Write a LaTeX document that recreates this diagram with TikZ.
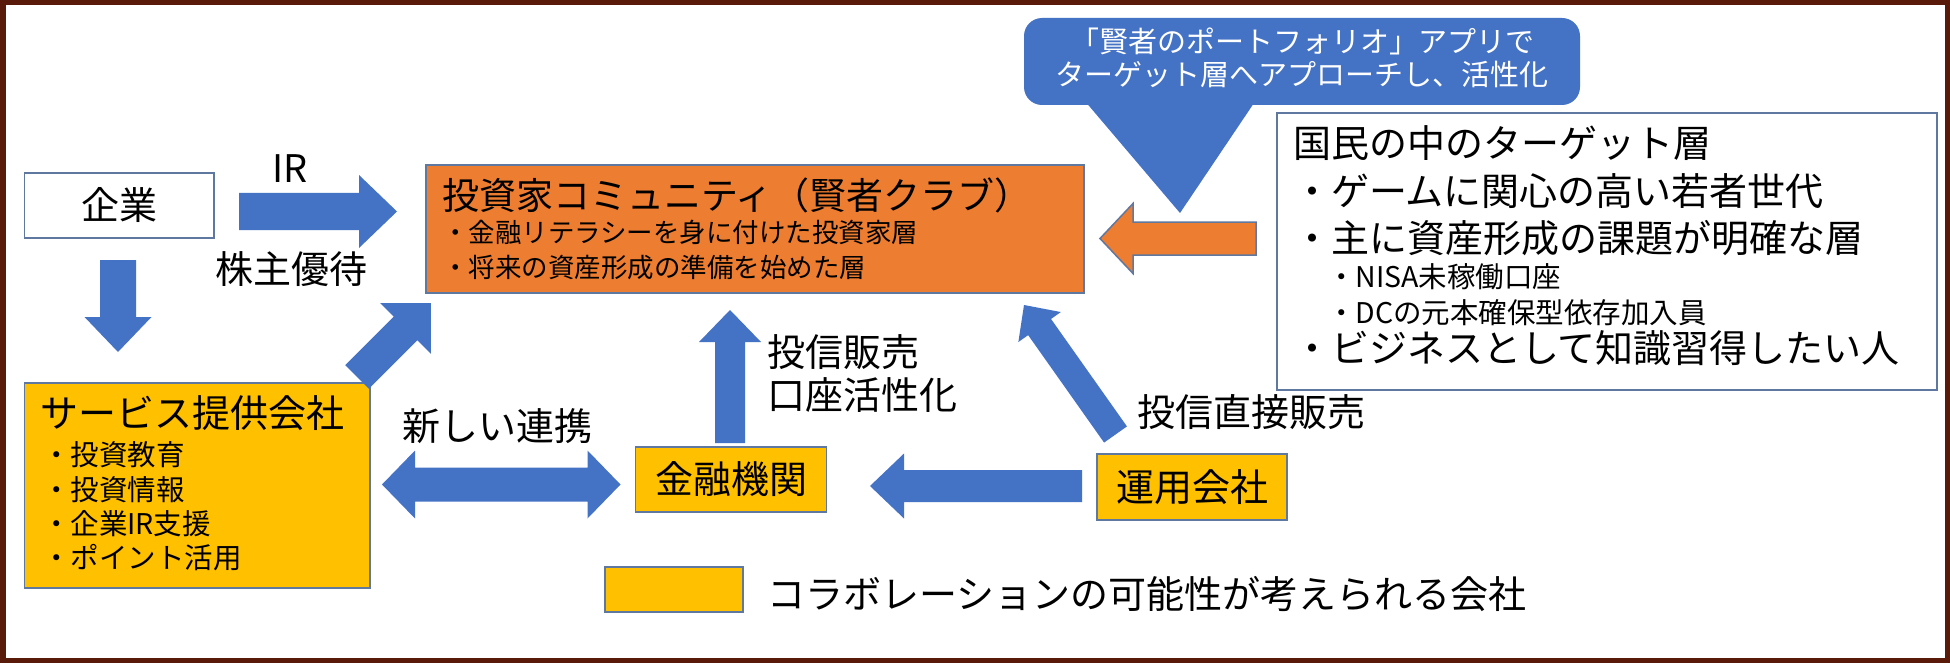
\documentclass[tikz,border=0pt]{standalone}
\usepackage{fontspec}
\setmainfont{Noto Sans CJK JP}
\usetikzlibrary{calc}
\definecolor{bordc}{RGB}{95,120,160}
\definecolor{framec}{RGB}{90,26,10}
\definecolor{arrb}{RGB}{68,114,196}
\definecolor{yelc}{RGB}{255,192,0}
\definecolor{orac}{RGB}{237,125,49}
\newcommand{\fsz}[1]{\fontsize{#1}{#1}\selectfont}
\newcommand{\blockarrow}[6][barrow]{%
  \pgfpointdiff{\pgfpointanchor{#2}{center}}{\pgfpointanchor{#3}{center}}%
  \pgfgetlastxy{\bax}{\bay}%
  \pgfmathsetmacro{\baang}{atan2(\bay,\bax)}%
  \pgfmathsetmacro{\balen}{veclen(\bax,\bay)}%
  \pgfmathsetmacro{\baneck}{\balen-#6}%
  \begin{scope}[shift={(#2)},rotate=\baang]
    \path[#1] (0pt,{-#4*1pt}) -- ({\baneck*1pt},{-#4*1pt}) -- ({\baneck*1pt},{-#5*1pt}) -- ({\balen*1pt},0pt)
      -- ({\baneck*1pt},{#5*1pt}) -- ({\baneck*1pt},{#4*1pt}) -- (0pt,{#4*1pt}) -- cycle;
  \end{scope}}
\newcommand{\dblockarrow}[6][barrow]{%
  \pgfpointdiff{\pgfpointanchor{#2}{center}}{\pgfpointanchor{#3}{center}}%
  \pgfgetlastxy{\bax}{\bay}%
  \pgfmathsetmacro{\baang}{atan2(\bay,\bax)}%
  \pgfmathsetmacro{\balen}{veclen(\bax,\bay)}%
  \pgfmathsetmacro{\baneck}{\balen-#6}%
  \begin{scope}[shift={(#2)},rotate=\baang]
    \path[#1] (0pt,0pt) -- ({#6*1pt},{-#5*1pt}) -- ({#6*1pt},{-#4*1pt}) -- ({\baneck*1pt},{-#4*1pt})
      -- ({\baneck*1pt},{-#5*1pt}) -- ({\balen*1pt},0pt) -- ({\baneck*1pt},{#5*1pt}) -- ({\baneck*1pt},{#4*1pt})
      -- ({#6*1pt},{#4*1pt}) -- ({#6*1pt},{#5*1pt}) -- cycle;
  \end{scope}}
\begin{document}
\begin{tikzpicture}[x=1pt,y=-1pt,
  box/.style={draw=bordc, line width=1.5pt, inner sep=0pt, outer sep=0pt, anchor=north west},
  wbox/.style={box, fill=white},
  ybox/.style={box, fill=yelc},
  obox/.style={box, fill=orac},
  t38/.style={inner sep=0pt, outer sep=0pt, font=\fsz{38}, text height=33.44pt, text depth=4.56pt},
  t37/.style={inner sep=0pt, outer sep=0pt, font=\fsz{37}, text height=32.56pt, text depth=4.44pt},
  t29/.style={inner sep=0pt, outer sep=0pt, font=\fsz{29}, text height=25.52pt, text depth=3.48pt},
  t28/.style={inner sep=0pt, outer sep=0pt, font=\fsz{28.5}, text height=25.08pt, text depth=3.42pt},
  t26/.style={inner sep=0pt, outer sep=0pt, font=\fsz{26.5}, text height=23.32pt, text depth=3.18pt},
  barrow/.style={fill=arrb},
  oarrow/.style={fill=orac, draw=bordc, line width=1.5pt}]
\useasboundingbox (0,0) rectangle (1950,663);
\fill[white] (0,0) rectangle (1950,663);
\draw[framec, line width=5.5pt] (2.75,2.75) rectangle (1947.25,660.25);

% boxes
\node[wbox, t38, minimum width=189.5pt, minimum height=65pt] (kigyo) at (24.5,173) {企業};
\node[obox, minimum width=658pt, minimum height=128pt] (club) at (426,165) {};
\node[wbox, minimum width=660pt, minimum height=277pt] (target) at (1277,113) {};
\node[ybox, minimum width=345.5pt, minimum height=205pt] (service) at (24.5,383) {};
\node[ybox, t38, minimum width=191pt, minimum height=65pt] (kinyu) at (635.5,447) {金融機関};
\node[ybox, t38, minimum width=190pt, minimum height=66pt] (unyo) at (1097,454) {運用会社};
\node[ybox, minimum width=138pt, minimum height=45pt] (legend) at (605,567) {};

% callout
\node[fill=arrb, rounded corners=18pt, inner sep=0pt, outer sep=0pt, anchor=north west,
      minimum width=556pt, minimum height=87pt] (callout) at (1024,18) {};
\coordinate (pL) at (1084,100);
\coordinate (pR) at (1256,100);
\coordinate (pT) at (1180,213);
\fill[arrb] (pL) -- (pR) -- (pT) -- cycle;
\node[t29, text=white] (cl1) at (1302,41) {「賢者のポートフォリオ」アプリで};
\node[t29, text=white] (cl2) at (1302,74) {ターゲット層へアプローチし、活性化};

% texts in boxes
\node[t37, anchor=west] (clubT) at (442,195) {投資家コミュニティ（賢者クラブ）};
\node[t26, anchor=west] (clubB1) at (442,232.5) {・金融リテラシーを身に付けた投資家層};
\node[t26, anchor=west] (clubB2) at (442,267.5) {・将来の資産形成の準備を始めた層};

\node[t38, anchor=west] (tgT) at (1293,143) {国民の中のターゲット層};
\node[t38, anchor=west] (tg1) at (1293,191) {・ゲームに関心の高い若者世代};
\node[t38, anchor=west] (tg2) at (1293,238) {・主に資産形成の課題が明確な層};
\node[t28, anchor=west] (tg3) at (1327,277) {・NISA未稼働口座};
\node[t28, anchor=west] (tg4) at (1327,313) {・DCの元本確保型依存加入員};
\node[t38, anchor=west] (tg5) at (1293,348) {・ビジネスとして知識習得したい人};

\node[t38, anchor=west] (svT) at (40,413) {サービス提供会社};
\node[t28, anchor=west] (sv1) at (42,454.5) {・投資教育};
\node[t28, anchor=west] (sv2) at (42,489.5) {・投資情報};
\node[t28, anchor=west] (sv3) at (42,523.5) {・企業IR支援};
\node[t28, anchor=west] (sv4) at (42,557.5) {・ポイント活用};

% labels
\node[t38] (irL) at (290,168) {IR};
\node[t38] (yuL) at (291,269) {株主優待};
\node[t38] (renL) at (497.5,426) {新しい連携};
\node[t38, anchor=west] (toL1) at (767,352) {投信販売};
\node[t38, anchor=west] (toL2) at (767,395) {口座活性化};
\node[t38, anchor=west] (chL) at (1137,412) {投信直接販売};
\node[t38, anchor=west] (legT) at (767,594.5) {コラボレーションの可能性が考えられる会社};

% arrow ends
\coordinate (irA) at (239,211.5);   \coordinate (irB) at (397,211.5);
\coordinate (dnA) at (118,260);     \coordinate (dnB) at (118,352);
\coordinate (dgA) at (357,377);     \coordinate (dgB) at (431,303);
\coordinate (orA) at (1256,238.5);  \coordinate (orB) at (1100,238.5);
\coordinate (upA) at (730,443);     \coordinate (upB) at (730,310);
\coordinate (dbA) at (382,484.5);   \coordinate (dbB) at (620.5,484.5);
\coordinate (lfA) at (1082,486);    \coordinate (lfB) at (870,486);
\coordinate (d2A) at (1115.5,434.5);\coordinate (d2B) at (1024,305);

% block arrows
\blockarrow{irA}{irB}{18.5}{36.5}{38}
\blockarrow{dnA}{dnB}{18}{33.5}{35}
\blockarrow{dgA}{dgB}{16.7}{36}{36}
\blockarrow[oarrow]{orA}{orB}{16.5}{35}{33}
\blockarrow{upA}{upB}{15}{31}{32}
\dblockarrow{dbA}{dbB}{17}{34}{33}
\blockarrow{lfA}{lfB}{16}{32.5}{34}
\blockarrow{d2A}{d2B}{14}{26}{27}
\end{tikzpicture}
\end{document}
